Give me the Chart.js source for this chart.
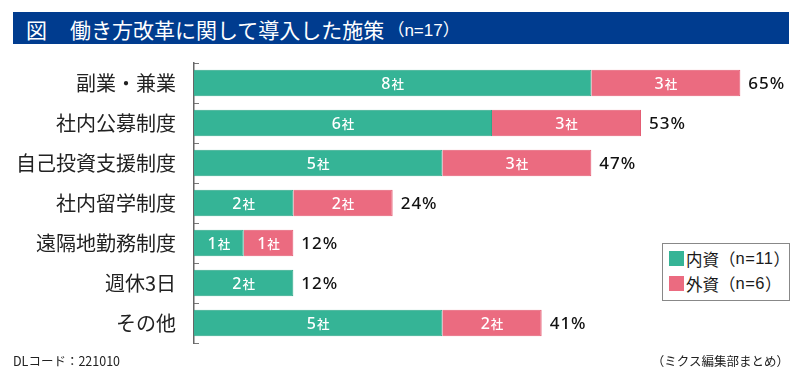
<!DOCTYPE html>
<html>
<head>
<meta charset="utf-8">
<script src="https://cdn.jsdelivr.net/npm/chart.js@4"></script>
<style>
  html, body { margin:0; padding:0; background:#fff; }
  body { width:800px; height:380px; position:relative; overflow:hidden; font-family:"Noto Sans CJK JP","Noto Sans",sans-serif; }
  #c { position:absolute; left:0; top:0; }
  #title { position:absolute; left:13px; top:12px; width:776px; height:32px; background:#003c8f; color:#fff; display:flex; align-items:center; font-size:21px; font-weight:400; box-sizing:border-box; padding-left:13px; padding-top:1px; white-space:nowrap; }
  #title .fig { margin-right:23px; }
  #title .n { font-size:17px; margin-left:3px; font-family:"Liberation Sans","Noto Sans CJK JP",sans-serif; }
  #title .p { font-family:"Noto Sans CJK JP",sans-serif; }
  #legend { position:absolute; left:662px; top:243px; width:128px; height:58px; box-sizing:border-box; border:1px solid #888; background:#fff; padding-top:2px; }
  #legend .row { display:flex; align-items:center; height:25px; padding-left:6px; font-size:16.5px; color:#1a1a1a; white-space:nowrap; }
  #legend .sw { width:15px; height:15px; margin-right:2px; flex:none; }
  #legend .lat { font-family:"Liberation Sans",sans-serif; letter-spacing:0.5px; }
  #legend .p { font-family:"Noto Sans CJK JP",sans-serif; }
  .foot { position:absolute; top:351px; font-size:12.5px; color:#222; white-space:nowrap; }
</style>
</head>
<body>
<canvas id="c" width="800" height="380"></canvas>
<div id="title"></div>
<div id="legend"></div>
<div class="foot" id="dl" style="left:13px;"></div>
<div class="foot" id="src" style="right:11px;"></div>
<script>
// ---- data ----
const titleFig = "図";
const titleMain = "働き方改革に関して導入した施策";
const titleN = "n=17";
const categories = ["副業・兼業", "社内公募制度", "自己投資支援制度", "社内留学制度", "遠隔地勤務制度", "週休3日", "その他"];
const domestic = [8, 6, 5, 2, 1, 2, 5];   // 内資 (n=11)
const foreign  = [3, 3, 3, 2, 1, 0, 2];   // 外資 (n=6)
const percents = [65, 53, 47, 24, 12, 12, 41];
const seriesShort = ["内資", "外資"];
const seriesN = ["n=11", "n=6"];
const unitLabel = "社";
const xMax = 12;
const footLeft = "DLコード：221010";
const footRight = "（ミクス編集部まとめ）";

const GREEN = "#35b496";
const PINK = "#eb6b80";
const FONT = '"Noto Sans CJK JP", "Noto Sans", sans-serif';
const NFONT = '"Noto Sans", "Liberation Sans", sans-serif';

// ---- HTML text ----
document.getElementById('title').innerHTML =
  '<span class="fig">' + titleFig + '</span><span>' + titleMain + '</span><span class="n"><span class="p">（</span>' + titleN + '<span class="p">）</span></span>';
const colors = [GREEN, PINK];
document.getElementById('legend').innerHTML = seriesShort.map((s, i) =>
  '<div class="row"><div class="sw" style="background:' + colors[i] + '"></div><span>' + s + '</span><span class="p">（</span><span class="lat">' + seriesN[i] + '</span><span class="p">）</span></div>').join('');
document.getElementById('dl').textContent = footLeft;
document.getElementById('src').textContent = footRight;

// ---- labels plugin ----
const labelPlugin = {
  id: 'barLabels',
  afterDatasetsDraw(chart) {
    const ctx = chart.ctx;
    ctx.save();
    ctx.textBaseline = 'middle';
    chart.data.datasets.forEach((ds, di) => {
      const meta = chart.getDatasetMeta(di);
      meta.data.forEach((el, i) => {
        const v = ds.data[i];
        if (!v) return;
        const cx = (el.x + el.base) / 2;
        const numTxt = String(v);
        ctx.font = '500 16px ' + NFONT;
        const w1 = ctx.measureText(numTxt).width;
        ctx.font = '500 12.5px ' + FONT;
        const w2 = ctx.measureText(unitLabel).width;
        const start = cx - (w1 + 1 + w2) / 2;
        ctx.fillStyle = '#fff';
        ctx.textAlign = 'left';
        ctx.font = '500 16px ' + NFONT;
        ctx.fillText(numTxt, start, el.y + 1);
        ctx.font = '500 12.5px ' + FONT;
        ctx.fillText(unitLabel, start + w1 + 1, el.y + 1.5);
      });
    });
    const xs = chart.scales.x;
    const meta0 = chart.getDatasetMeta(0);
    ctx.fillStyle = '#111';
    ctx.textAlign = 'left';
    ctx.font = '500 17px ' + NFONT;
    ctx.letterSpacing = '1px';
    percents.forEach((p, i) => {
      const total = domestic[i] + foreign[i];
      const x = xs.getPixelForValue(total) + 8;
      ctx.fillText(p + '%', x, meta0.data[i].y + 1);
    });
    ctx.restore();
  }
};

new Chart(document.getElementById('c'), {
  type: 'bar',
  data: {
    labels: categories,
    datasets: [
      { label: seriesShort[0], data: domestic, backgroundColor: GREEN, borderColor: '#2fa888', borderWidth: 1, barPercentage: 0.66, categoryPercentage: 1 },
      { label: seriesShort[1], data: foreign, backgroundColor: PINK, borderColor: '#e45d74', borderWidth: 1, barPercentage: 0.66, categoryPercentage: 1 }
    ]
  },
  options: {
    indexAxis: 'y',
    responsive: false,
    animation: false,
    layout: { padding: { top: 63, bottom: 37, left: 0, right: 10 } },
    plugins: { legend: { display: false }, title: { display: false }, tooltip: { enabled: false } },
    scales: {
      x: { stacked: true, min: 0, max: xMax, display: false },
      y: {
        stacked: true,
        offset: true,
        afterFit(scale) { scale.width = 194; },
        border: { display: true, color: '#666', width: 1.5 },
        grid: { display: true, offset: true, drawOnChartArea: false, drawTicks: true, tickLength: -5, color: '#777', lineWidth: 1 },
        ticks: { padding: 23, color: '#222', font: { family: FONT, size: 20, weight: '400' } }
      }
    }
  },
  plugins: [labelPlugin]
});
</script>
</body>
</html>
